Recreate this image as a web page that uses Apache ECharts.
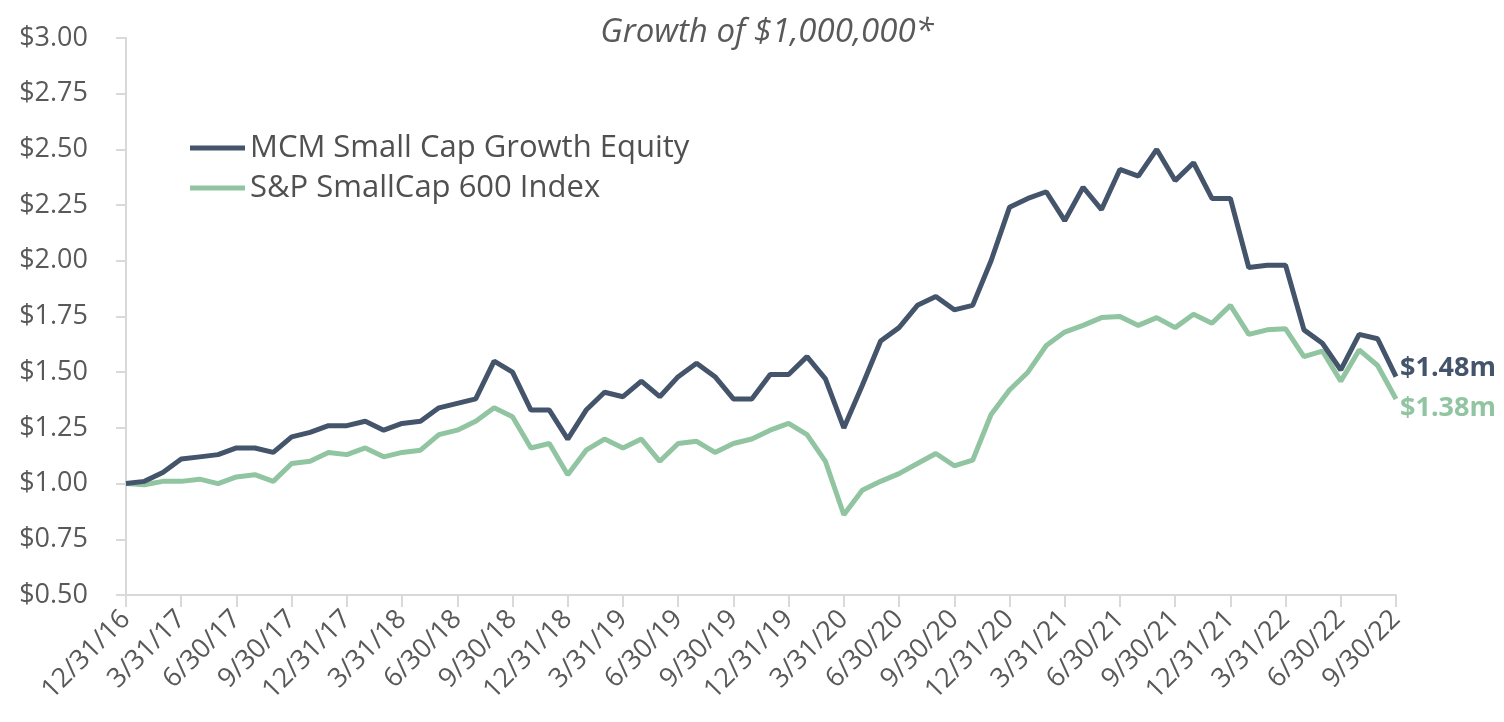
<!DOCTYPE html>
<html>
<head>
<meta charset="utf-8">
<script src="https://cdn.jsdelivr.net/npm/echarts@6/dist/echarts.min.js"></script>
<style>
  html, body { margin: 0; padding: 0; background: #fff; }
  #main { width: 1504px; height: 722px; }
</style>
</head>
<body>
<div id="main"></div>
<script>
// month-end dates (x categories)
var dates = [
  '12/31/16',
  '1/31/17','2/28/17','3/31/17','4/30/17','5/31/17','6/30/17','7/31/17','8/31/17','9/30/17','10/31/17','11/30/17','12/31/17',
  '1/31/18','2/28/18','3/31/18','4/30/18','5/31/18','6/30/18','7/31/18','8/31/18','9/30/18','10/31/18','11/30/18','12/31/18',
  '1/31/19','2/28/19','3/31/19','4/30/19','5/31/19','6/30/19','7/31/19','8/31/19','9/30/19','10/31/19','11/30/19','12/31/19',
  '1/31/20','2/29/20','3/31/20','4/30/20','5/31/20','6/30/20','7/31/20','8/31/20','9/30/20','10/31/20','11/30/20','12/31/20',
  '1/31/21','2/28/21','3/31/21','4/30/21','5/31/21','6/30/21','7/31/21','8/31/21','9/30/21','10/31/21','11/30/21','12/31/21',
  '1/31/22','2/28/22','3/31/22','4/30/22','5/31/22','6/30/22','7/31/22','8/31/22','9/30/22'
];

// growth of $1 (millions)
var mcm = [1.00,1.01,1.05,1.11,1.12,1.13,1.16,1.16,1.14,1.21,1.23,1.26,1.26,
  1.28,1.24,1.27,1.28,1.34,1.36,1.38,1.55,1.50,1.33,1.33,1.20,
  1.33,1.41,1.39,1.46,1.39,1.48,1.54,1.48,1.38,1.38,1.49,1.49,
  1.57,1.47,1.25,1.44,1.64,1.70,1.80,1.84,1.78,1.80,2.00,2.24,
  2.28,2.31,2.18,2.33,2.23,2.41,2.38,2.50,2.36,2.44,2.28,2.28,
  1.97,1.98,1.98,1.69,1.63,1.51,1.67,1.65,1.48];
var sp600 = [1.00,0.995,1.01,1.01,1.02,1.00,1.03,1.04,1.01,1.09,1.10,1.14,1.13,
  1.16,1.12,1.14,1.15,1.22,1.24,1.28,1.34,1.30,1.16,1.18,1.04,
  1.15,1.20,1.16,1.20,1.10,1.18,1.19,1.14,1.18,1.20,1.24,1.27,
  1.22,1.10,0.86,0.97,1.01,1.045,1.09,1.135,1.08,1.105,1.31,1.42,
  1.50,1.62,1.68,1.71,1.745,1.75,1.71,1.745,1.70,1.76,1.72,1.80,
  1.67,1.69,1.695,1.57,1.595,1.46,1.60,1.53,1.38];

var seriesNames = ['MCM Small Cap Growth Equity', 'S&P SmallCap 600 Index'];
var colors = ['#44546a', '#91c4a1'];
var font = 'Open Sans';

var chart = echarts.init(document.getElementById('main'));

var option = {
  animation: false,
  color: colors,
  title: {
    text: 'Growth of $1,000,000*',
    left: 762,
    textAlign: 'center',
    top: 11,
    textStyle: { fontFamily: font, fontStyle: 'italic', fontWeight: 'normal', fontSize: 33, color: '#595959' }
  },
  legend: {
    orient: 'vertical',
    left: 185,
    top: 126,
    icon: 'rect',
    itemWidth: 55,
    itemHeight: 5,
    itemGap: 6,
    textStyle: { fontFamily: font, fontSize: 31, color: '#505050', lineHeight: 34 },
    data: seriesNames
  },
  grid: { left: 126, right: 108, top: 38, bottom: 127 },
  xAxis: {
    type: 'category',
    boundaryGap: false,
    data: dates,
    axisLine: { lineStyle: { color: '#d9d9d9', width: 2 } },
    axisTick: { interval: 2, length: 12, lineStyle: { color: '#d9d9d9', width: 2 } },
    axisLabel: { interval: 2, rotate: 45, margin: 20, fontFamily: font, fontSize: 27, color: '#595959' },
    splitLine: { show: false }
  },
  yAxis: {
    type: 'value',
    min: 0.5,
    max: 3,
    interval: 0.25,
    axisLine: { show: true, lineStyle: { color: '#d9d9d9', width: 2 } },
    axisTick: { show: true, length: 10, lineStyle: { color: '#d9d9d9', width: 2 } },
    axisLabel: {
      margin: 38, fontFamily: font, fontSize: 27, color: '#595959',
      formatter: function (v) { return '$' + v.toFixed(2); }
    },
    splitLine: { show: false }
  },
  series: [
    {
      name: seriesNames[0],
      type: 'line',
      data: mcm,
      symbol: 'none',
      lineStyle: { width: 5, color: colors[0] },
      z: 3,
      endLabel: {
        show: true, distance: 4, offset: [0, -8],
        fontFamily: font, fontSize: 27, fontWeight: 'bold', color: colors[0],
        formatter: function (p) { return '$' + p.value.toFixed(2) + 'm'; }
      }
    },
    {
      name: seriesNames[1],
      type: 'line',
      data: sp600,
      symbol: 'none',
      lineStyle: { width: 5, color: colors[1] },
      z: 2,
      endLabel: {
        show: true, distance: 4, offset: [0, 9],
        fontFamily: font, fontSize: 27, fontWeight: 'bold', color: colors[1],
        formatter: function (p) { return '$' + p.value.toFixed(2) + 'm'; }
      }
    }
  ]
};

chart.setOption(option);
</script>
</body>
</html>
